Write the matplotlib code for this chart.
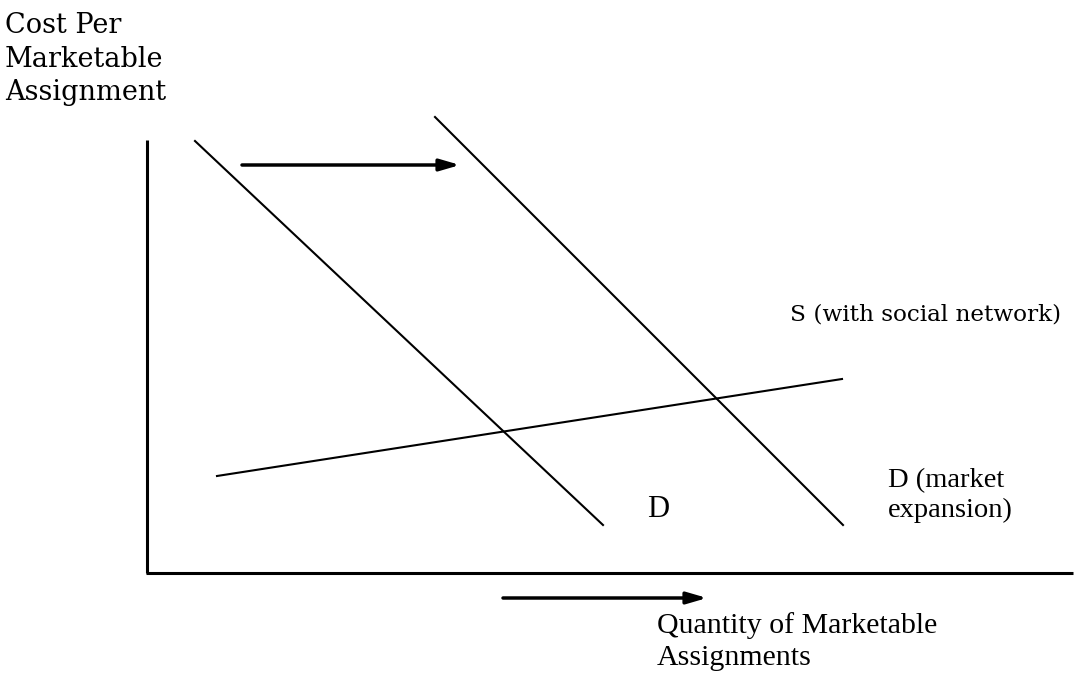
import matplotlib.pyplot as plt

# line endpoints in picture pixels (x, y from top)
demand_x = [195, 603]
demand_y = [141, 525]
demand2_x = [435, 843]
demand2_y = [117, 525]
supply_x = [217, 842]
supply_y = [476, 379]

shift_top = [242, 460, 165]
shift_bottom = [503, 707, 598]

fig = plt.figure(figsize=(10.75, 6.73), dpi=100)
ax = fig.add_axes([0, 0, 1, 1])
ax.set_xlim(0, 1075)
ax.set_ylim(673, 0)
ax.axis('off')

georgia = 'DejaVu Serif'
times = 'Liberation Serif'

# axes
ax.plot([147, 147], [140, 573], color='black', lw=2.2, solid_capstyle='butt')
ax.plot([146, 1073], [573, 573], color='black', lw=2.2, solid_capstyle='butt')

# curves
ax.plot(demand_x, demand_y, color='black', lw=1.5)
ax.plot(demand2_x, demand2_y, color='black', lw=1.5)
ax.plot(supply_x, supply_y, color='black', lw=1.5)

# shift arrows
for x0, x1, y in [shift_top, shift_bottom]:
    ax.annotate('', xy=(x1, y), xytext=(x0, y),
                arrowprops=dict(arrowstyle='-|>,head_length=1.2,head_width=0.35',
                                color='black', lw=2.5, shrinkA=0, shrinkB=0))

# labels
for txt, yb in [('Cost Per', 33), ('Marketable', 67), ('Assignment', 100)]:
    ax.text(5, yb, txt, family=georgia, fontsize=19.5, va='baseline', ha='left')
ax.text(790, 320, 'S (with social network)', family=georgia, fontsize=16.7,
        va='baseline', ha='left')
ax.text(647, 517, 'D', family=times, fontsize=22, va='baseline', ha='left')
ax.text(888, 487, 'D (market', family=times, fontsize=20.5, va='baseline', ha='left')
ax.text(888, 517, 'expansion)', family=times, fontsize=20.5, va='baseline', ha='left')
ax.text(657, 633, 'Quantity of Marketable', family=times, fontsize=21.5,
        va='baseline', ha='left')
ax.text(657, 665, 'Assignments', family=times, fontsize=21.5, va='baseline', ha='left')

fig.savefig('out.png', dpi=100)
